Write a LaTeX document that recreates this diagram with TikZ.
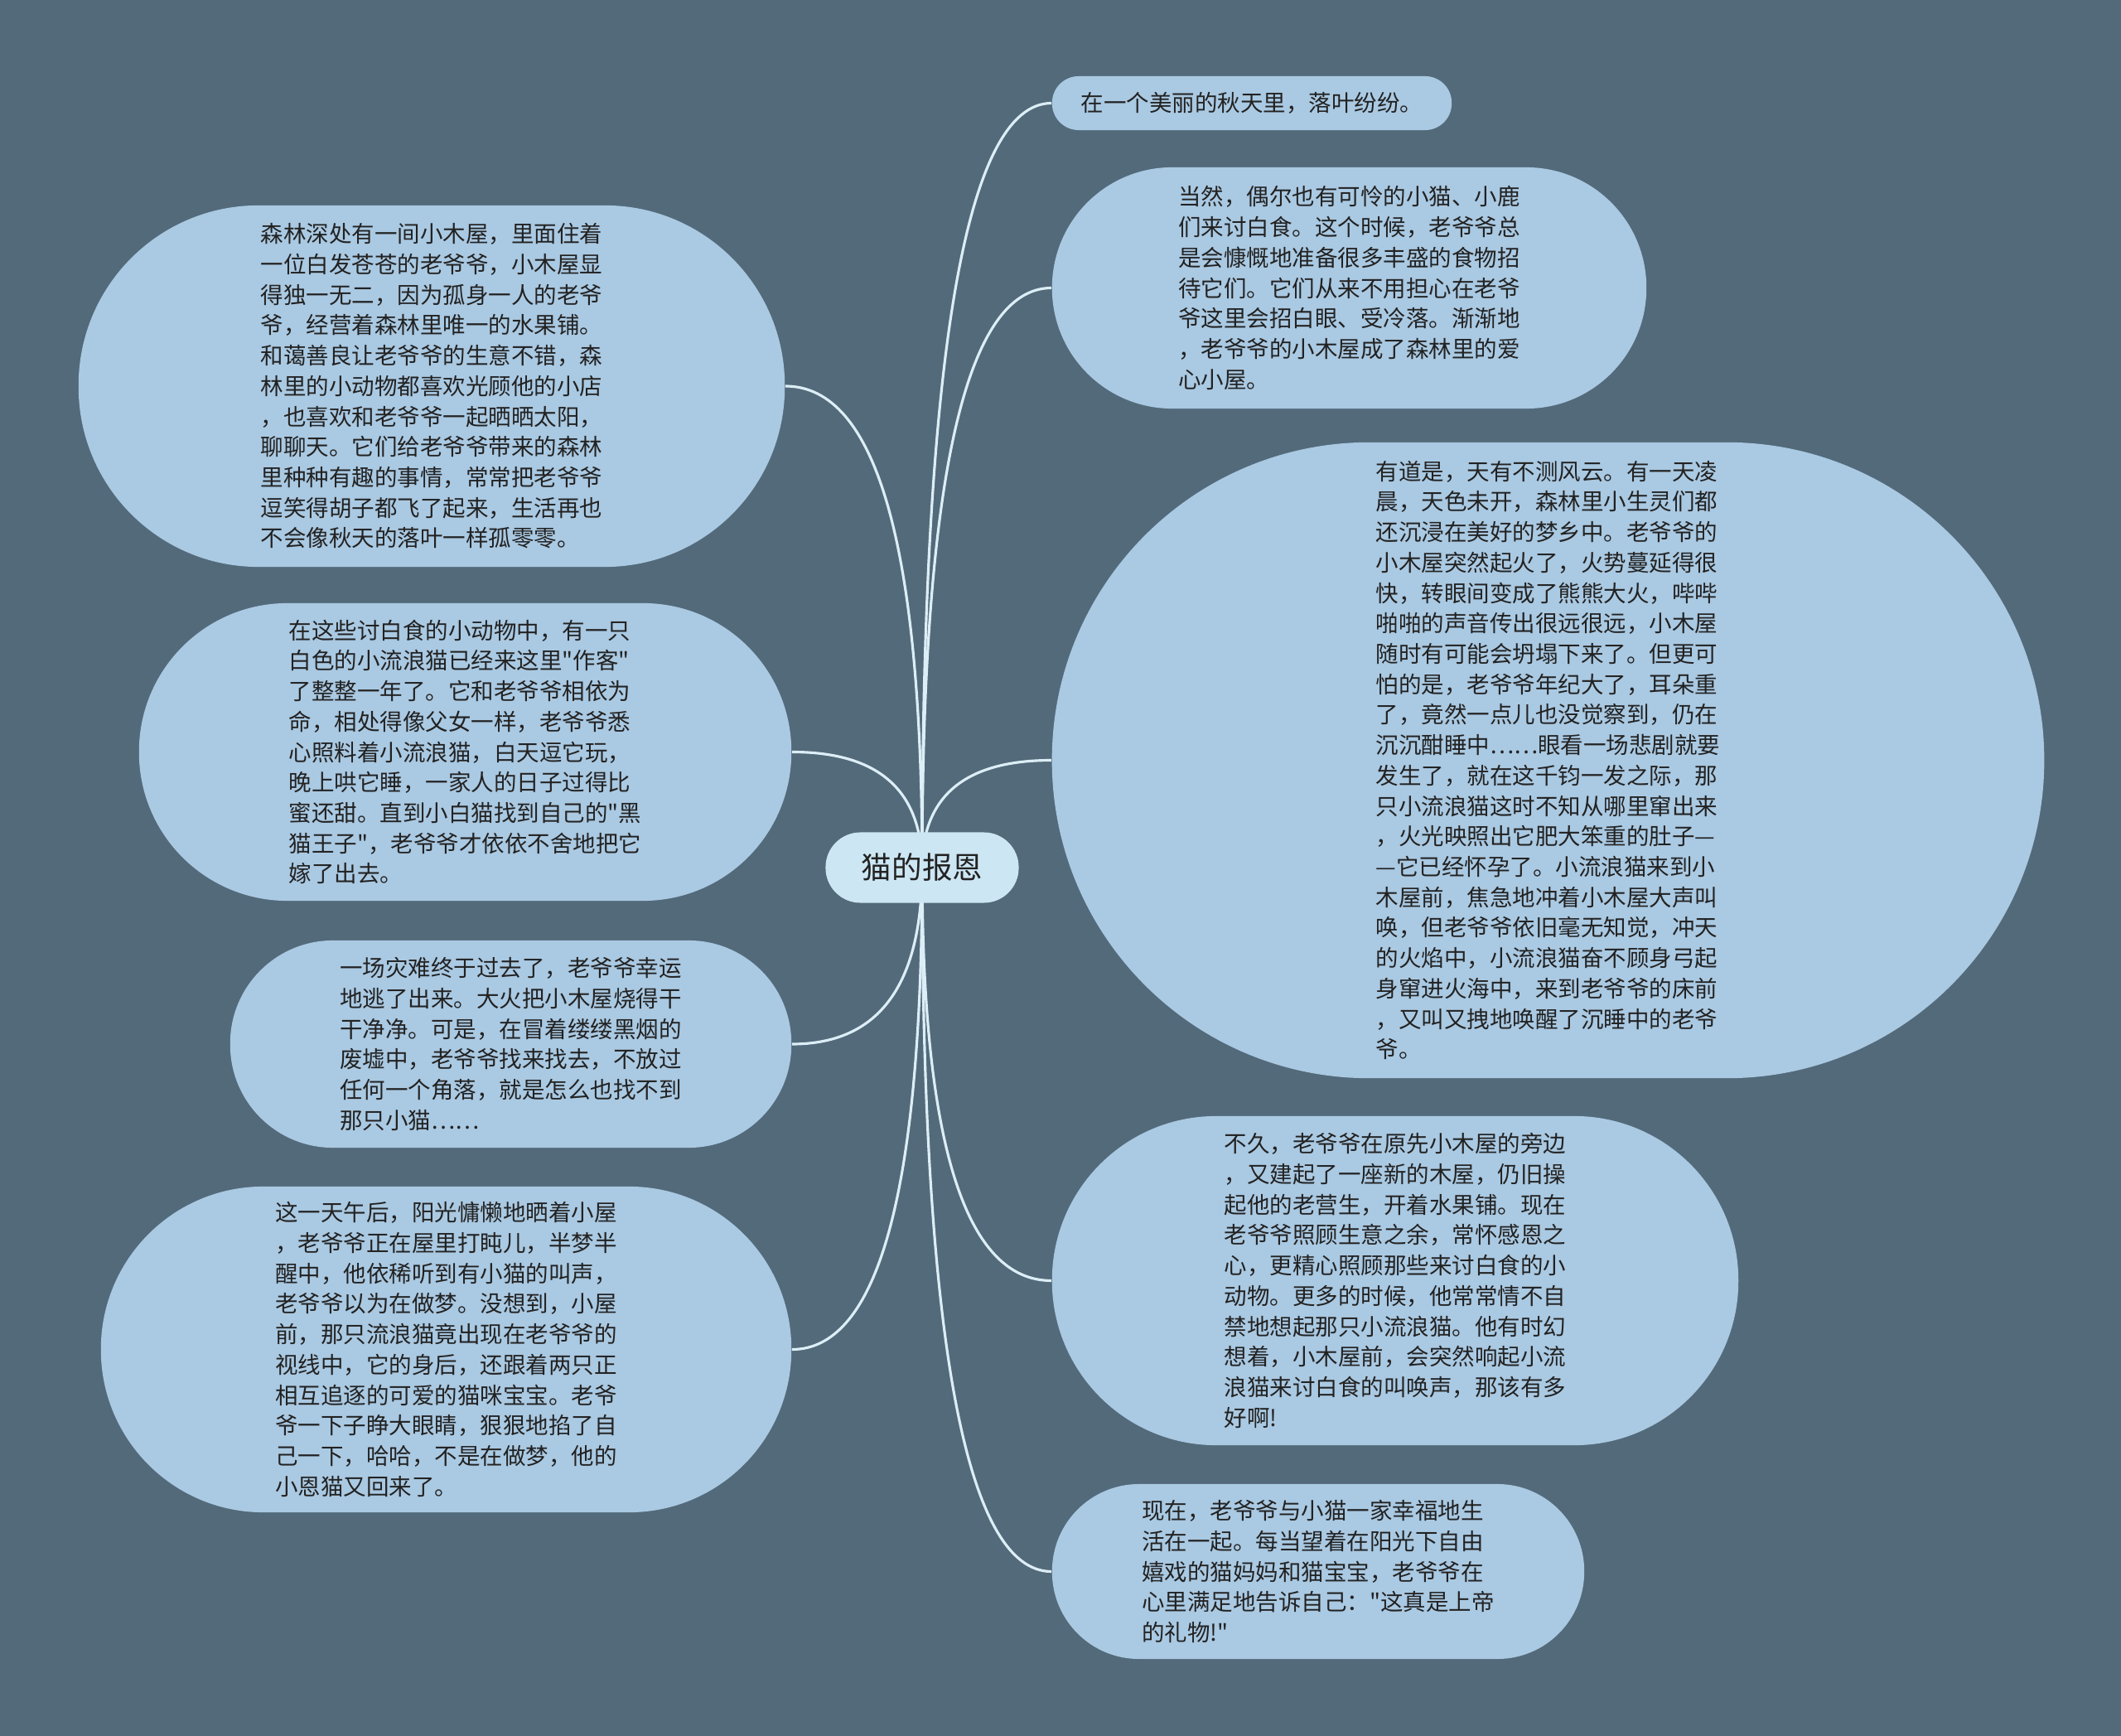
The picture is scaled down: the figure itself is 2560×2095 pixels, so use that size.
\documentclass[tikz,border=0pt]{standalone}
\usepackage{fontspec}
\newfontfamily\cjk{Noto Sans CJK SC}
\usetikzlibrary{calc}
\definecolor{bgc}{HTML}{536A7A}
\definecolor{nodec}{HTML}{AAC9E2}
\definecolor{centerc}{HTML}{CDE6F3}
\definecolor{linec}{HTML}{DCEEF6}
\definecolor{txt}{HTML}{222222}
\pgfdeclarelayer{bglayer}
\pgfdeclarelayer{linelayer}
\pgfsetlayers{bglayer,linelayer,main}
\newcommand\mmlink[2]{\draw[link] (c.center) .. controls ($(c.center)!0.667!(c.center|-#1.#2)$) and ($(#1.#2)!0.667!(c.center|-#1.#2)$) .. (#1.#2);}
\begin{document}
\begin{tikzpicture}[x=0.01cm,y=-0.01cm,
  leaf/.style={draw=none, fill=nodec, text=txt, font=\cjk\fontsize{7.82pt}{10.44pt}\selectfont, align=left, inner sep=0pt},
  hub/.style={draw=none, fill=centerc, text=txt, font=\cjk\fontsize{10.4pt}{12.5pt}\selectfont, inner sep=0pt},
  link/.style={draw=linec, line width=0.9pt}]
\begin{pgfonlayer}{bglayer}
\fill[bgc] (0,0) rectangle (2560,2095);
\end{pgfonlayer}
\useasboundingbox (0,0) rectangle (2560,2095);

\node[hub, minimum width=2.33cm, minimum height=0.85cm, rounded corners=0.42cm] (c) at (1113,1047) {猫的报恩};

\node[leaf, minimum width=8.52cm, minimum height=4.36cm, rounded corners=2.17cm] (l1) at (521,466) {森林深处有一间小木屋，里面住着\\一位白发苍苍的老爷爷，小木屋显\\得独一无二，因为孤身一人的老爷\\爷，经营着森林里唯一的水果铺。\\和蔼善良让老爷爷的生意不错，森\\林里的小动物都喜欢光顾他的小店\\，也喜欢和老爷爷一起晒晒太阳，\\聊聊天。它们给老爷爷带来的森林\\里种种有趣的事情，常常把老爷爷\\逗笑得胡子都飞了起来，生活再也\\不会像秋天的落叶一样孤零零。};

\node[leaf, minimum width=7.87cm, minimum height=3.59cm, rounded corners=1.79cm] (l2) at (561.5,907.5) {在这些讨白食的小动物中，有一只\\白色的小流浪猫已经来这里"作客"\\了整整一年了。它和老爷爷相依为\\命，相处得像父女一样，老爷爷悉\\心照料着小流浪猫，白天逗它玩，\\晚上哄它睡，一家人的日子过得比\\蜜还甜。直到小白猫找到自己的"黑\\猫王子"，老爷爷才依依不舍地把它\\嫁了出去。};

\node[leaf, minimum width=6.77cm, minimum height=2.50cm, rounded corners=1.24cm] (l3) at (616.5,1260) {一场灾难终于过去了，老爷爷幸运\\地逃了出来。大火把小木屋烧得干\\干净净。可是，在冒着缕缕黑烟的\\废墟中，老爷爷找来找去，不放过\\任何一个角落，就是怎么也找不到\\那只小猫……};

\node[leaf, minimum width=8.33cm, minimum height=3.93cm, rounded corners=1.96cm] (l4) at (538.5,1628.5) {这一天午后，阳光慵懒地晒着小屋\\，老爷爷正在屋里打盹儿，半梦半\\醒中，他依稀听到有小猫的叫声，\\老爷爷以为在做梦。没想到，小屋\\前，那只流浪猫竟出现在老爷爷的\\视线中，它的身后，还跟着两只正\\相互追逐的可爱的猫咪宝宝。老爷\\爷一下子睁大眼睛，狠狠地掐了自\\己一下，哈哈，不是在做梦，他的\\小恩猫又回来了。};

\node[leaf, minimum width=4.82cm, minimum height=0.65cm, rounded corners=0.32cm] (r1) at (1511,124.5) {在一个美丽的秋天里，落叶纷纷。};

\node[leaf, minimum width=7.17cm, minimum height=2.91cm, rounded corners=1.45cm] (r2) at (1628.5,347.5) {当然，偶尔也有可怜的小猫、小鹿\\们来讨白食。这个时候，老爷爷总\\是会慷慨地准备很多丰盛的食物招\\待它们。它们从来不用担心在老爷\\爷这里会招白眼、受冷落。渐渐地\\，老爷爷的小木屋成了森林里的爱\\心小屋。};

\node[leaf, minimum width=11.97cm, minimum height=7.67cm, rounded corners=3.83cm] (r3) at (1868.5,917.5) {有道是，天有不测风云。有一天凌\\晨，天色未开，森林里小生灵们都\\还沉浸在美好的梦乡中。老爷爷的\\小木屋突然起火了，火势蔓延得很\\快，转眼间变成了熊熊大火，哔哔\\啪啪的声音传出很远很远，小木屋\\随时有可能会坍塌下来了。但更可\\怕的是，老爷爷年纪大了，耳朵重\\了，竟然一点儿也没觉察到，仍在\\沉沉酣睡中……眼看一场悲剧就要\\发生了，就在这千钧一发之际，那\\只小流浪猫这时不知从哪里窜出来\\，火光映照出它肥大笨重的肚子—\\—它已经怀孕了。小流浪猫来到小\\木屋前，焦急地冲着小木屋大声叫\\唤，但老爷爷依旧毫无知觉，冲天\\的火焰中，小流浪猫奋不顾身弓起\\身窜进火海中，来到老爷爷的床前\\，又叫又拽地唤醒了沉睡中的老爷\\爷。};

\node[leaf, minimum width=8.28cm, minimum height=3.97cm, rounded corners=1.98cm] (r4) at (1684,1545.5) {不久，老爷爷在原先小木屋的旁边\\，又建起了一座新的木屋，仍旧操\\起他的老营生，开着水果铺。现在\\老爷爷照顾生意之余，常怀感恩之\\心，更精心照顾那些来讨白食的小\\动物。更多的时候，他常常情不自\\禁地想起那只小流浪猫。他有时幻\\想着，小木屋前，会突然响起小流\\浪猫来讨白食的叫唤声，那该有多\\好啊!};

\node[leaf, minimum width=6.42cm, minimum height=2.11cm, rounded corners=1.05cm] (r5) at (1591,1896.5) {现在，老爷爷与小猫一家幸福地生\\活在一起。每当望着在阳光下自由\\嬉戏的猫妈妈和猫宝宝，老爷爷在\\心里满足地告诉自己："这真是上帝\\的礼物!"};

\begin{pgfonlayer}{linelayer}
\mmlink{l1}{east}
\mmlink{l2}{east}
\mmlink{l3}{east}
\mmlink{l4}{east}
\mmlink{r1}{west}
\mmlink{r2}{west}
\mmlink{r3}{west}
\mmlink{r4}{west}
\mmlink{r5}{west}
\end{pgfonlayer}
\end{tikzpicture}
\end{document}
